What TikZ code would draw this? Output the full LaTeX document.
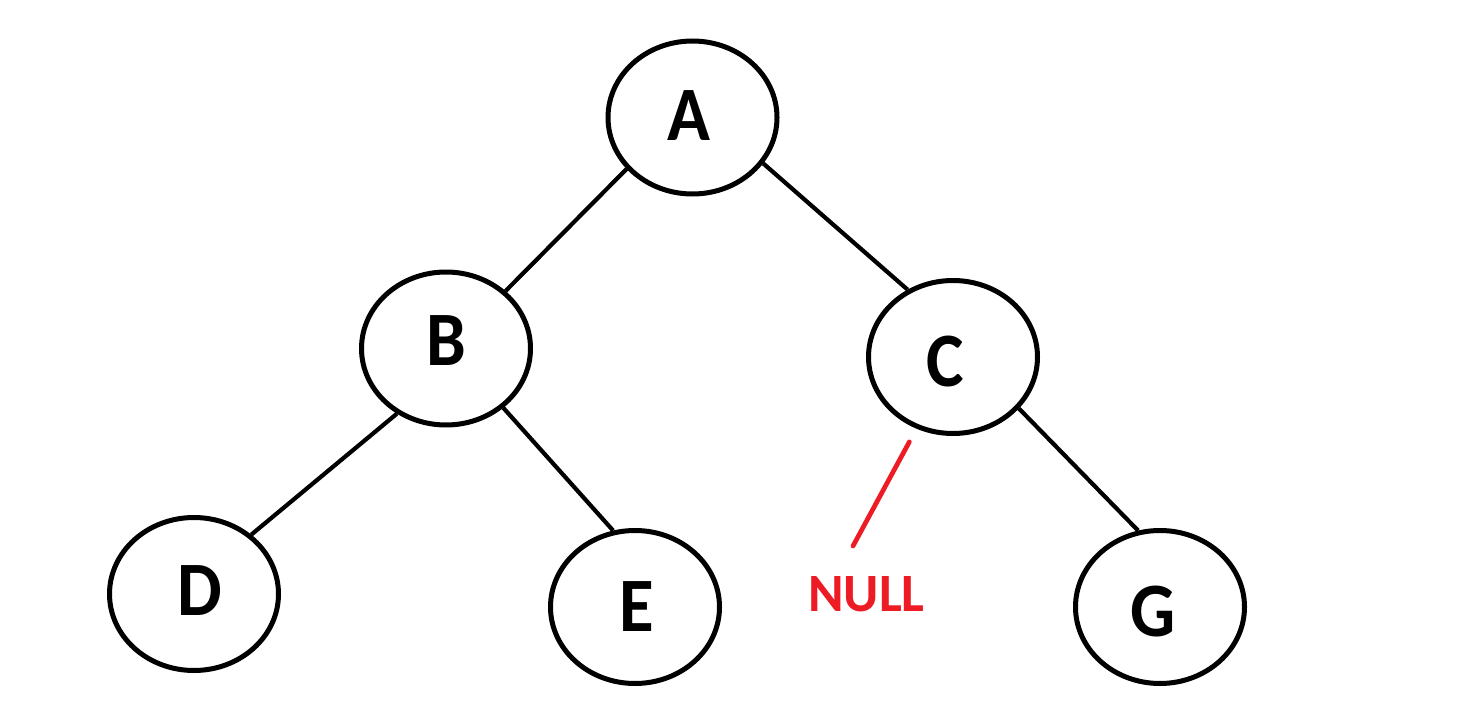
\documentclass[tikz,border=0pt]{standalone}
\usepackage{fontspec}
\setmainfont{Carlito}
\usetikzlibrary{shapes.geometric}
\definecolor{nullred}{HTML}{ED1C24}
\begin{document}
\begin{tikzpicture}[x=1pt,y=-1pt,
  treenode/.style={draw, ellipse, line width=5pt, minimum width=169pt, minimum height=153pt, inner sep=0pt},
  letter/.style={font=\bfseries\fontsize{77}{77}\selectfont, inner sep=0pt, xscale=0.92, transform shape},
  edge/.style={line width=4.2pt},
  nulledge/.style={draw=nullred, line width=4.7pt, line cap=round},
  nulltext/.style={text=nullred, font=\bfseries\fontsize{54}{54}\selectfont, inner sep=0pt}]
\useasboundingbox (0,0) rectangle (1473,706);
% circles
\node[treenode] (A) at (692.5,117.5) {};
\node[treenode] (B) at (446,348.5) {};
\node[treenode] (C) at (953,357) {};
\node[treenode] (D) at (194,594) {};
\node[treenode] (E) at (635,607) {};
\node[treenode] (G) at (1160,607) {};
% letters
\node[letter] (tA) at (689,116) {A};
\node[letter] (tB) at (446,341) {B};
\node[letter] (tC) at (945,362) {C};
\node[letter] (tD) at (200,591) {D};
\node[letter] (tE) at (637,607) {E};
\node[letter] (tG) at (1153,612) {G};
\node[nulltext] (null) at (866.5,594) {NULL};
% edges
\draw[edge] (A.218.9) -- (B.44.8);
\draw[edge] (A.327.5) -- (C.124.4);
\draw[edge] (B.233.5) -- (D.46.9);
\draw[edge] (B.314.8) -- (E.106.2);
\draw[edge] (C.322.4) -- (G.106.6);
\coordinate (nullend) at (853,546);
\draw[nulledge, shorten <=15pt] (C.243) -- (nullend);
\end{tikzpicture}
\end{document}
